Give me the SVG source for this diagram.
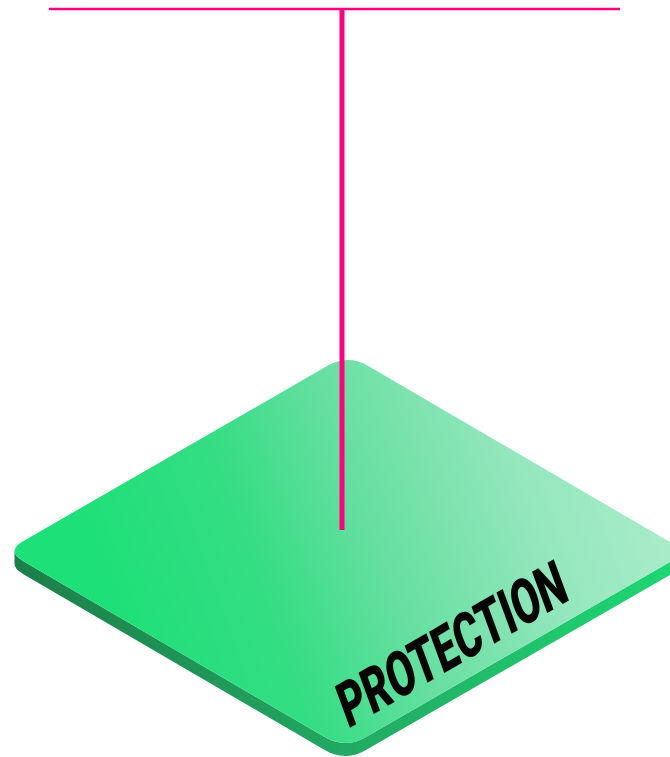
<svg xmlns="http://www.w3.org/2000/svg" width="670" height="757" viewBox="0 0 670 757">
  <style>
    .wire { stroke: #ff0080; fill: none; stroke-linecap: butt; }
    .label { font-family: Roboto, "DejaVu Sans", "Liberation Sans", sans-serif; font-weight: 900; font-size: 61px; fill: #050505; }
  </style>
  <defs>
    <linearGradient id="topGrad" gradientUnits="userSpaceOnUse" x1="120" y1="620" x2="680" y2="420">
      <stop offset="0" stop-color="#1ee078"/>
      <stop offset="0.25" stop-color="#35dd84"/>
      <stop offset="0.45" stop-color="#66dfa0"/>
      <stop offset="0.7" stop-color="#92e6bc"/>
      <stop offset="1" stop-color="#b2eed0"/>
    </linearGradient>
    <linearGradient id="sideGrad" gradientUnits="userSpaceOnUse" x1="0" y1="0" x2="680" y2="0">
      <stop offset="0" stop-color="#1b7d48"/>
      <stop offset="0.5" stop-color="#22a862"/>
      <stop offset="1" stop-color="#1dd873"/>
    </linearGradient>
  </defs>
  <rect width="670" height="757" fill="#ffffff"/>
  <g id="plate">
    <path d="M 14.5,551 Q 14.5,556 23,560.9 L 324.7,737.1 Q 345,749 365.5,737.2 L 669.9,561.9 Q 678.45,557 678.5,552 L 678.5,565 Q 678.45,570 669.9,574.9 L 365.5,750.2 Q 345,762 324.7,750.1 L 23,573.9 Q 14.5,569 14.5,564 Z" fill="url(#sideGrad)"/>
    <path d="M 327.5,365.8 Q 348,354 368.3,365.9 L 670,542.1 Q 687,552 669.9,561.9 L 365.5,737.2 Q 345,749 324.7,737.1 L 23,560.9 Q 6,551 23.1,541.2 Z" fill="url(#topGrad)"/>
    <g id="label" transform="translate(348,729) rotate(-30.2) skewX(-10)">
      <text class="label" x="0" y="0" textLength="258" lengthAdjust="spacingAndGlyphs">PROTECTION</text>
    </g>
  </g>
  <g id="connectors">
    <line class="wire" x1="49" y1="9" x2="620" y2="9" stroke-width="2.5"/>
    <line class="wire" x1="342" y1="8" x2="342" y2="530" stroke-width="5"/>
  </g>
</svg>
